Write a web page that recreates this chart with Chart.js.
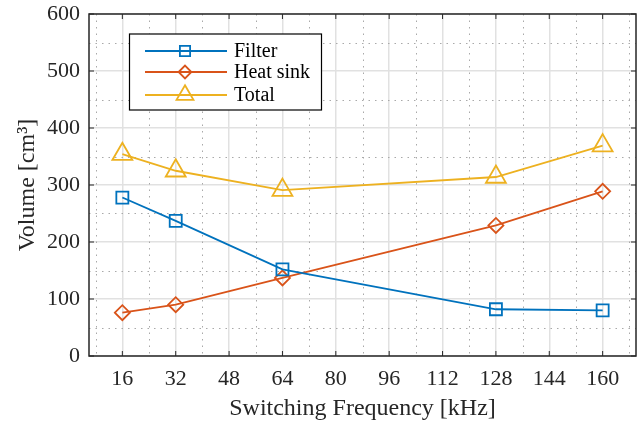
<!DOCTYPE html>
<html>
<head>
<meta charset="utf-8">
<title>Volume vs Switching Frequency</title>
<script src="https://cdn.jsdelivr.net/npm/chart.js"></script>
<style>
    html, body { margin: 0; padding: 0; background: #fff; }
    #wrap { width: 641px; height: 425px; }
</style>
</head>
<body>
<div id="wrap"><canvas id="volChart" width="641" height="425"></canvas></div>
<script>
// Data
const freqs = [16, 32, 64, 128, 160];
const filterVol = [278, 237, 152, 82, 80];
const heatSinkVol = [76, 90, 137, 229, 289];
const totalVol = [354, 325, 291, 314, 369];
const xTicks = [16, 32, 48, 64, 80, 96, 112, 128, 144, 160];
const yTicks = [0, 100, 200, 300, 400, 500, 600];

const FONT = '"Liberation Serif", "DejaVu Serif", serif';
const AXIS = '#262626';

function pts(ys) {
    return freqs.map((f, i) => ({ x: f, y: ys[i] }));
}

// minor grid, inner ticks, axes box and a MATLAB style legend
const matlabLook = {
    id: 'matlabLook',
    beforeDatasetsDraw(chart) {
        const { ctx, chartArea: a, scales: { x, y } } = chart;
        ctx.save();
        ctx.strokeStyle = '#a9a9a9';
        ctx.lineWidth = 1;
        ctx.setLineDash([1.5, 5]);
        for (let v = 8; v <= 168; v += 16) {
            const px = Math.round(x.getPixelForValue(v)) + 0.5;
            ctx.beginPath(); ctx.moveTo(px, a.top); ctx.lineTo(px, a.bottom); ctx.stroke();
        }
        for (let v = 50; v < 600; v += 100) {
            const py = Math.round(y.getPixelForValue(v)) + 0.5;
            ctx.beginPath(); ctx.moveTo(a.left, py); ctx.lineTo(a.right, py); ctx.stroke();
        }
        ctx.restore();
    },
    afterDatasetsDraw(chart) {
        const { ctx, chartArea: a, scales: { x, y } } = chart;
        ctx.save();
        ctx.strokeStyle = AXIS;
        ctx.lineWidth = 1;
        const t = 5;
        xTicks.forEach(v => {
            const px = x.getPixelForValue(v);
            ctx.beginPath();
            ctx.moveTo(px, a.bottom); ctx.lineTo(px, a.bottom - t);
            ctx.moveTo(px, a.top); ctx.lineTo(px, a.top + t);
            ctx.stroke();
        });
        yTicks.forEach(v => {
            const py = y.getPixelForValue(v);
            ctx.beginPath();
            ctx.moveTo(a.left, py); ctx.lineTo(a.left + t, py);
            ctx.moveTo(a.right, py); ctx.lineTo(a.right - t, py);
            ctx.stroke();
        });
        ctx.lineWidth = 1.5;
        ctx.strokeRect(a.left, a.top, a.right - a.left, a.bottom - a.top);

        // legend
        const bx = 129.5, by = 34, bw = 192, bh = 76;
        ctx.fillStyle = '#fff';
        ctx.fillRect(bx, by, bw, bh);
        ctx.lineWidth = 1.2;
        ctx.strokeStyle = '#000';
        ctx.strokeRect(bx, by, bw, bh);
        const rows = [51, 72, 95];
        chart.data.datasets.forEach((ds, i) => {
            const ly = rows[i];
            ctx.strokeStyle = ds.borderColor;
            ctx.lineWidth = ds.borderWidth;
            ctx.beginPath(); ctx.moveTo(145, ly); ctx.lineTo(227, ly); ctx.stroke();
            ctx.fillStyle = 'rgba(0,0,0,0)';
            ctx.strokeStyle = ds.borderColor;
            ctx.lineWidth = ds.pointBorderWidth;
            Chart.helpers.drawPoint(ctx, {
                pointStyle: ds.pointStyle, radius: ds.pointRadius * 0.85,
                rotation: 0, borderWidth: ds.pointBorderWidth
            }, 185, ly);
            ctx.fillStyle = '#000';
            ctx.font = '20px ' + FONT;
            ctx.textBaseline = 'middle';
            ctx.textAlign = 'left';
            ctx.fillText(ds.label, 234, ly + 1);
        });
        ctx.restore();
    }
};

const ctx = document.getElementById('volChart').getContext('2d');
new Chart(ctx, {
    type: 'line',
    data: {
        datasets: [
            {
                label: 'Filter',
                data: pts(filterVol),
                borderColor: '#0072BD',
                borderWidth: 1.8,
                pointStyle: 'rect',
                pointRadius: 8.5,
                pointBorderWidth: 1.8,
                pointBackgroundColor: 'rgba(0,0,0,0)',
                pointBorderColor: '#0072BD'
            },
            {
                label: 'Heat sink',
                data: pts(heatSinkVol),
                borderColor: '#D95319',
                borderWidth: 1.8,
                pointStyle: 'rectRot',
                pointRadius: 7.5,
                pointBorderWidth: 1.8,
                pointBackgroundColor: 'rgba(0,0,0,0)',
                pointBorderColor: '#D95319'
            },
            {
                label: 'Total',
                data: pts(totalVol),
                borderColor: '#EDB120',
                borderWidth: 1.8,
                pointStyle: 'triangle',
                pointRadius: 11.5,
                pointBorderWidth: 1.8,
                pointBackgroundColor: 'rgba(0,0,0,0)',
                pointBorderColor: '#EDB120'
            }
        ]
    },
    options: {
        responsive: false,
        animation: false,
        layout: { autoPadding: false, padding: { top: 14, right: 5, left: 0, bottom: 0 } },
        plugins: {
            legend: { display: false },
            tooltip: { enabled: false }
        },
        scales: {
            x: {
                type: 'linear',
                min: 6,
                max: 170,
                afterBuildTicks: s => { s.ticks = xTicks.map(v => ({ value: v })); },
                afterFit: s => { s.height = 69; s.paddingLeft = 0; s.paddingRight = 0; },
                grid: { color: '#e1e1e1', lineWidth: 1.5, drawTicks: false },
                border: { display: false },
                ticks: {
                    color: AXIS, padding: 10,
                    font: { family: FONT, size: 22 }
                },
                title: {
                    display: true, text: 'Switching Frequency [kHz]', color: AXIS,
                    font: { family: FONT, size: 24 }, padding: { top: 0, bottom: 2 }
                }
            },
            y: {
                min: 0,
                max: 600,
                afterBuildTicks: s => { s.ticks = yTicks.map(v => ({ value: v })); },
                afterFit: s => { s.width = 89; s.paddingTop = 0; s.paddingBottom = 0; },
                grid: { color: '#e1e1e1', lineWidth: 1.5, drawTicks: false },
                border: { display: false },
                ticks: {
                    color: AXIS, padding: 9,
                    font: { family: FONT, size: 22 }
                },
                title: {
                    display: true, text: 'Volume [cm³]', color: AXIS,
                    font: { family: FONT, size: 24 }, padding: { top: 13, bottom: 0 }
                }
            }
        }
    },
    plugins: [matlabLook]
});
</script>
</body>
</html>
